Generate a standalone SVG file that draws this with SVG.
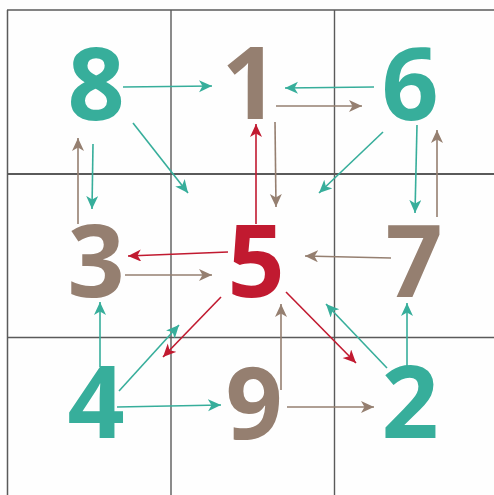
<svg xmlns="http://www.w3.org/2000/svg" width="494" height="495" viewBox="0 0 494 495">
<defs>
<style>
.d{font-family:"Open Sans","Liberation Sans",sans-serif;font-weight:700;font-size:100px;text-anchor:middle}
.t{fill:#37ae9b}.b{fill:#957f70}.r{fill:#c11a30}
.c line{stroke-width:1.6;fill:none}
.ct{stroke:#37ae9b;marker-end:url(#mt)}
.cb{stroke:#957f70;marker-end:url(#mb)}
.cr{stroke:#c11a30;marker-end:url(#mr)}
.g{stroke:#5a5a5a;fill:none}
</style>
<marker id="mt" markerUnits="userSpaceOnUse" markerWidth="16" markerHeight="14" refX="13" refY="6" orient="auto"><path d="M13,6 L0,0 L3.5,6 L0,12 Z" fill="#37ae9b"/></marker>
<marker id="mb" markerUnits="userSpaceOnUse" markerWidth="16" markerHeight="14" refX="13" refY="6" orient="auto"><path d="M13,6 L0,0 L3.5,6 L0,12 Z" fill="#957f70"/></marker>
<marker id="mr" markerUnits="userSpaceOnUse" markerWidth="16" markerHeight="14" refX="13" refY="6" orient="auto"><path d="M13,6 L0,0 L3.5,6 L0,12 Z" fill="#c11a30"/></marker>
</defs>
<rect width="494" height="495" fill="#fefefe"/>
<g id="grid">
<line class="g" x1="7" y1="10" x2="494" y2="10" stroke="#808080" stroke-width="1.3"/>
<line class="g" x1="7.5" y1="10" x2="7.5" y2="495" stroke-width="1.5"/>
<line class="g" x1="171" y1="10" x2="171" y2="495" stroke-width="1.4"/>
<line class="g" x1="334.5" y1="10" x2="334.5" y2="495" stroke-width="1.4"/>
<line class="g" x1="7" y1="174" x2="494" y2="174" stroke-width="2"/>
<line class="g" x1="7" y1="337.5" x2="494" y2="337.5" stroke-width="1.4"/>
</g>
<g id="connectors" class="c">
<line class="ct" x1="123" y1="87" x2="212" y2="86"/>
<line class="ct" x1="133" y1="123" x2="188" y2="193"/>
<line class="cb" x1="78" y1="224" x2="78" y2="138"/>
<line class="ct" x1="93" y1="144" x2="92" y2="209"/>
<line class="ct" x1="374" y1="87" x2="285" y2="88"/>
<line class="cb" x1="276" y1="106" x2="362" y2="106"/>
<line class="cr" x1="256" y1="224" x2="256" y2="124"/>
<line class="cb" x1="275" y1="122" x2="276" y2="207"/>
<line class="ct" x1="383" y1="132" x2="319" y2="193"/>
<line class="ct" x1="417" y1="125" x2="415" y2="213"/>
<line class="cb" x1="437" y1="217" x2="437" y2="130"/>
<line class="cr" x1="228" y1="252" x2="128" y2="256"/>
<line class="cb" x1="125" y1="275" x2="212" y2="275"/>
<line class="ct" x1="100" y1="367" x2="100" y2="302"/>
<line class="ct" x1="119" y1="391" x2="179" y2="325"/>
<line class="cr" x1="221" y1="297" x2="163" y2="357"/>
<line class="ct" x1="117" y1="407" x2="221" y2="405"/>
<line class="cb" x1="391" y1="258" x2="305" y2="256"/>
<line class="cr" x1="286" y1="292" x2="356" y2="363"/>
<line class="ct" x1="387" y1="368" x2="326" y2="304"/>
<line class="ct" x1="407" y1="366" x2="407" y2="303"/>
<line class="cb" x1="281" y1="390" x2="281" y2="304"/>
<line class="cb" x1="287" y1="407" x2="374" y2="407"/>
</g>
<g id="n8"><text class="d t" x="96" y="120">8</text></g>
<g id="n1"><text class="d b" x="250" y="119">1</text></g>
<g id="n6"><text class="d t" x="410" y="120">6</text></g>
<g id="n3"><text class="d b" x="96" y="297">3</text></g>
<g id="n5"><text class="d r" x="256" y="297">5</text></g>
<g id="n7"><text class="d b" x="414" y="297">7</text></g>
<g id="n4"><text class="d t" x="96" y="438">4</text></g>
<g id="n9"><text class="d b" x="254" y="439">9</text></g>
<g id="n2"><text class="d t" x="410" y="438">2</text></g>
</svg>
